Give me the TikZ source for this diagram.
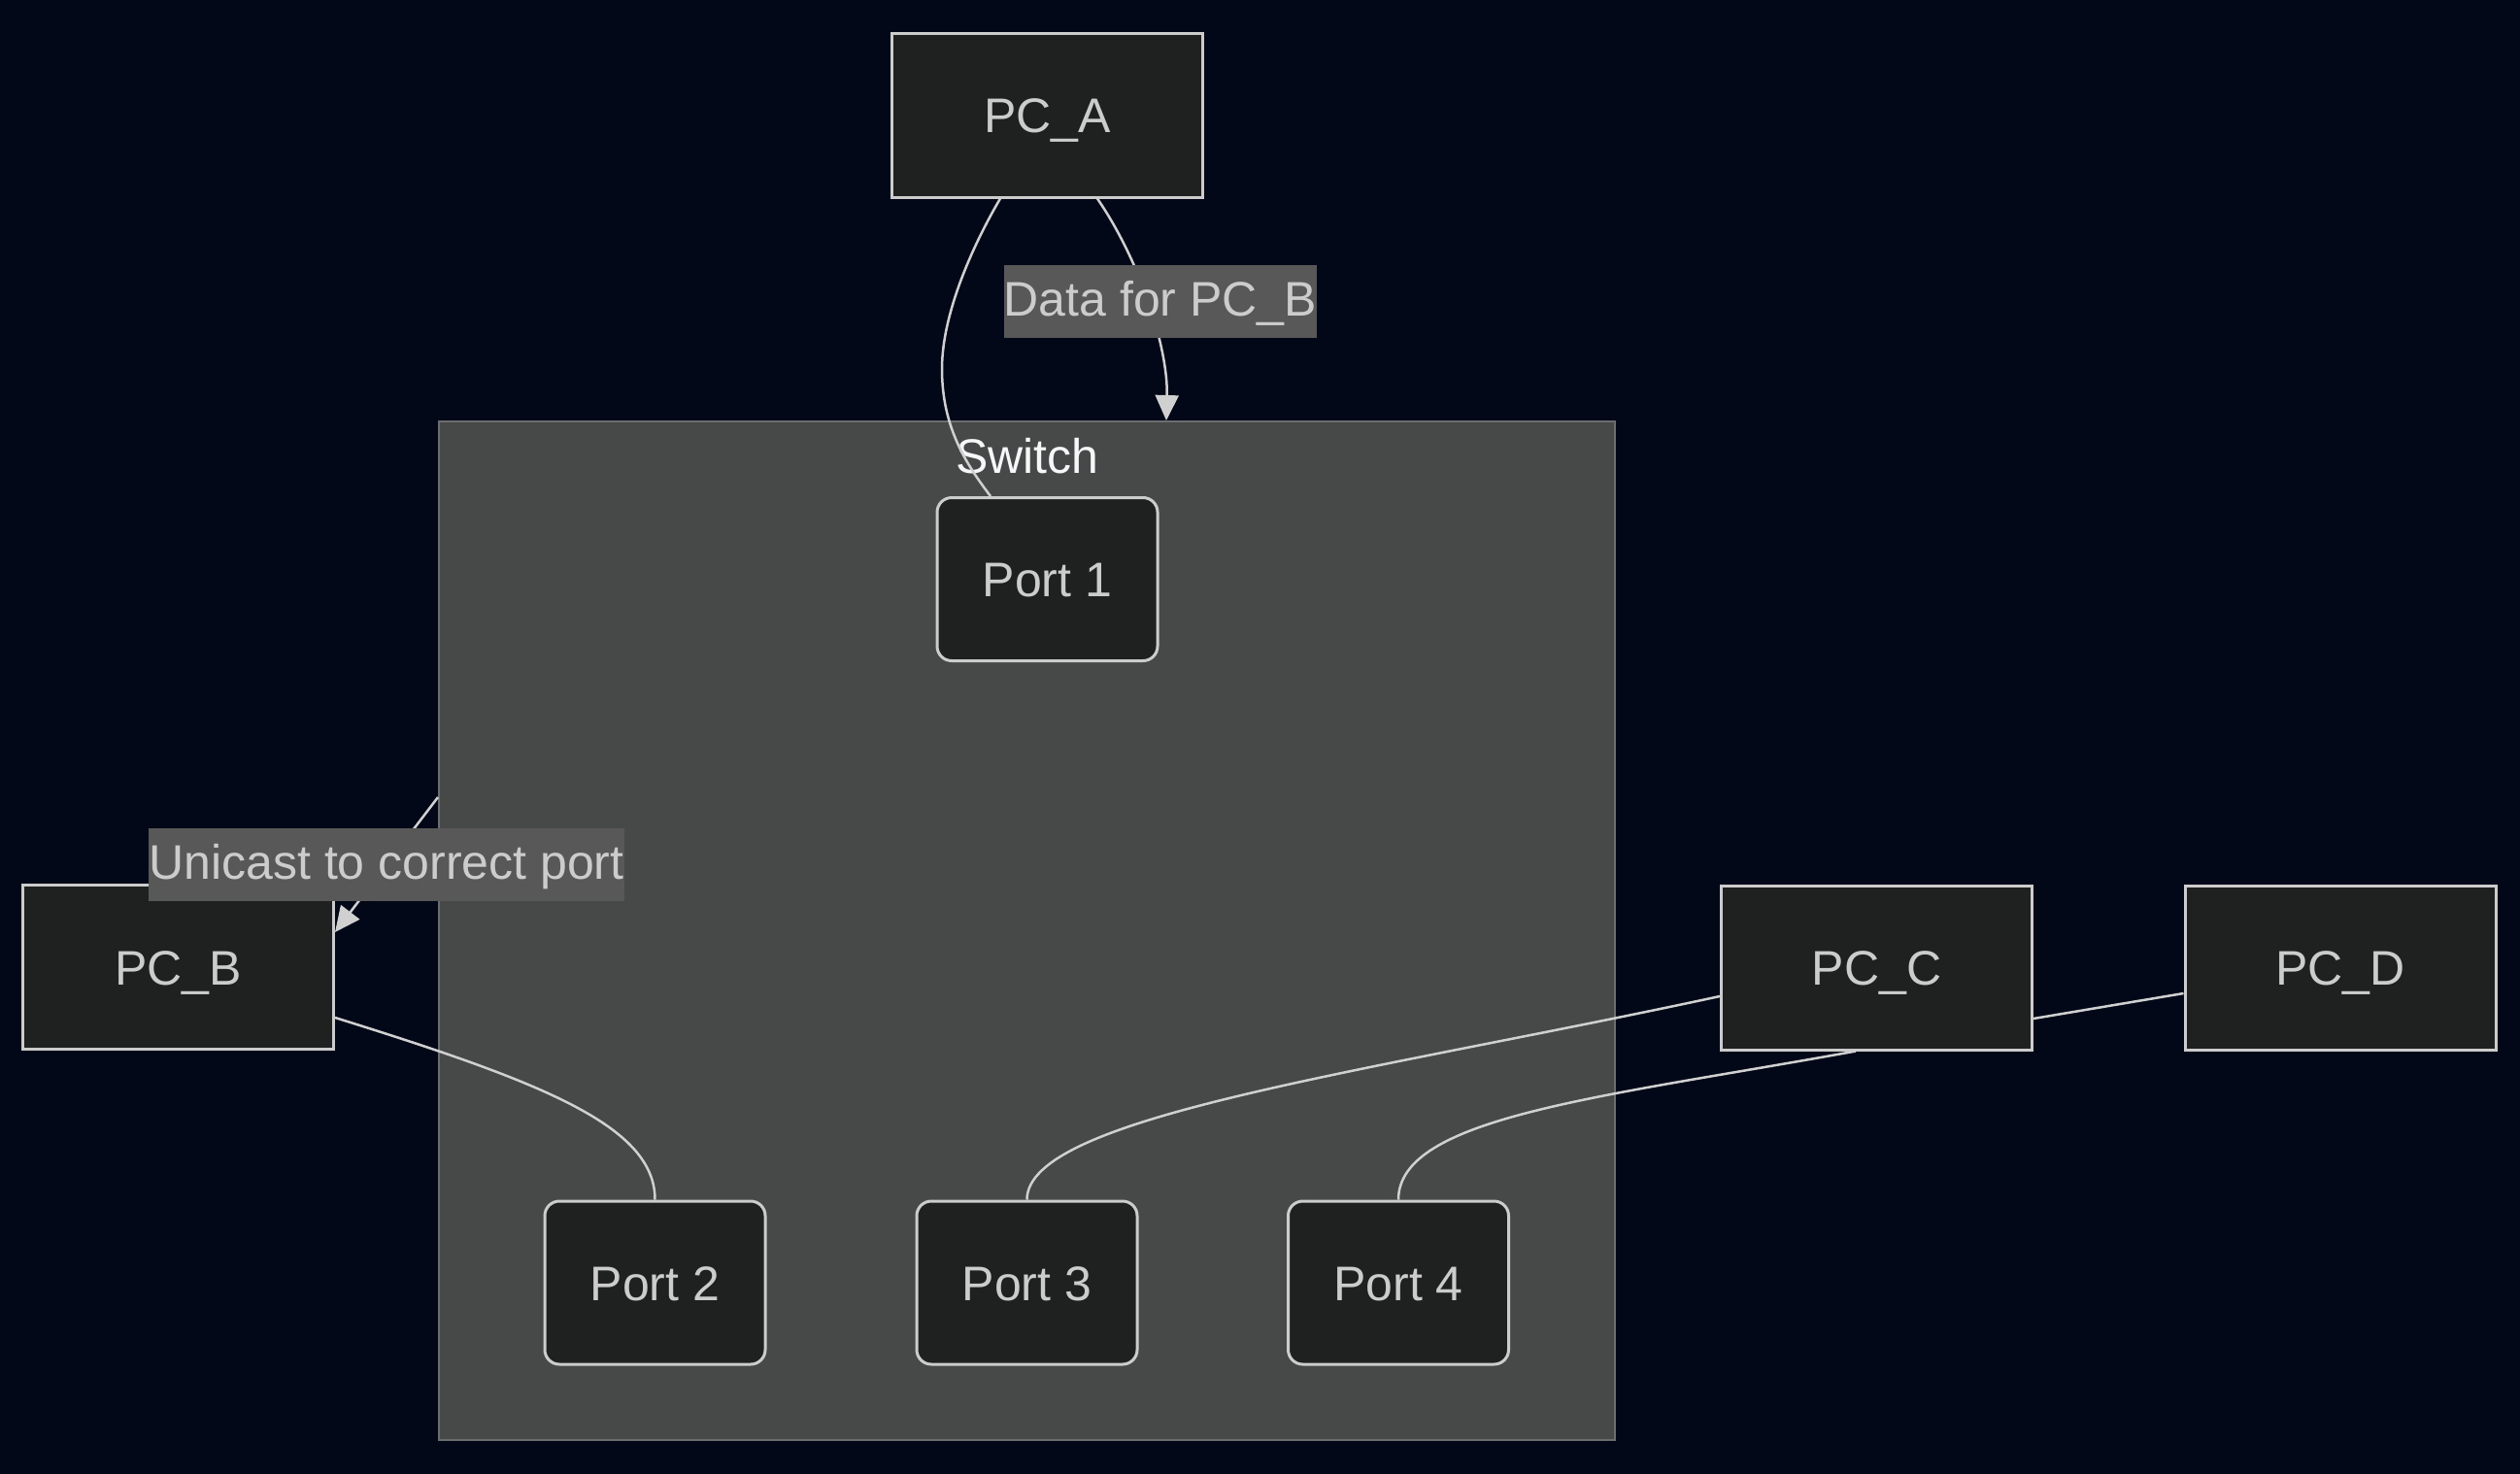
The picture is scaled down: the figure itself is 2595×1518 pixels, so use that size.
\documentclass[tikz,border=0pt]{standalone}
\usepackage{fontspec}
\setmainfont{Liberation Sans}
\usetikzlibrary{arrows.meta}
\definecolor{bg}{HTML}{020817}
\definecolor{nodefill}{HTML}{1F2020}
\definecolor{nodeline}{HTML}{CCCCCC}
\definecolor{clusterfill}{HTML}{474949}
\definecolor{clusterline}{HTML}{6B6D6E}
\definecolor{labelbg}{HTML}{585858}
\definecolor{edgecol}{HTML}{D0D0D0}
\definecolor{txt}{HTML}{CCCCCC}
\definecolor{titletxt}{HTML}{F4F8F8}
\begin{document}
\begin{tikzpicture}[x=1pt,y=-1pt,
  bigfont/.style={font=\fontsize{50}{60}\selectfont},
  pcbox/.style={draw=nodeline, fill=nodefill, line width=3pt, minimum width=320pt, minimum height=169pt, inner sep=0pt, text=txt, bigfont, text height=36pt, text depth=0pt},
  portbox/.style={pcbox, rounded corners=15pt, minimum width=227pt, minimum height=168pt},
  cluster/.style={draw=clusterline, fill=clusterfill, line width=2pt, minimum width=1211pt, minimum height=1049pt, inner sep=0pt},
  wire/.style={draw=edgecol, line width=2.5pt},
  arrowwire/.style={wire, -{Triangle[length=26pt,width=24pt]}},
  elabel/.style={fill=labelbg, text=txt, bigfont, inner sep=0pt, minimum height=75pt, text height=36pt, text depth=6pt},
]
\fill[bg] (0,0) rectangle (2595,1518);
\useasboundingbox (0,0) rectangle (2595,1518);

\node[cluster] (sw) at (1057.5,958.5) {};
\node[anchor=base, text=titletxt, bigfont, inner sep=0pt] (swtitle) at (1058,487) {Switch};

\node[pcbox] (pca) at (1078.5,118.5) {PC\_A};
\node[pcbox] (pcb) at (183.5,996) {PC\_B};
\node[pcbox] (pcc) at (1932.5,996.5) {PC\_C};
\node[pcbox] (pcd) at (2410,996.5) {PC\_D};

\node[portbox] (p1) at (1078.5,596.5) {Port 1};
\node[portbox] (p2) at (674.5,1321) {Port 2};
\node[portbox] (p3) at (1057.5,1321) {Port 3};
\node[portbox] (p4) at (1440,1321) {Port 4};

\coordinate (bend1) at (970,380);
\draw[wire] ([xshift=-48.5pt]pca.south) .. controls (1005,247) and (970,320) .. (bend1)
  .. controls (970,440) and (995,478) .. ([xshift=-58.5pt]p1.north);
\draw[arrowwire] ([xshift=51.5pt]pca.south) .. controls (1175,270) and (1203,360) .. ([xshift=143.5pt]sw.north);
\draw[arrowwire] ([yshift=137.5pt]sw.west) -- ([yshift=36pt]pcb.east);
\draw[wire] ([yshift=-52pt]pcb.east) .. controls (560,1115) and (674.5,1160) .. (p2.north);
\draw[wire] ([yshift=-29.5pt]pcc.west) .. controls (1400,1106) and (1057.5,1150) .. (p3.north);
\draw[wire] ([xshift=-21.5pt]pcc.south) .. controls (1650,1130) and (1440,1150) .. (p4.north);
\draw[wire] ([yshift=-52.5pt]pcc.east) -- ([yshift=-26.5pt]pcd.west);

\node[elabel] (la) at (1195,310.5) {Data for PC\_B};
\node[elabel] (lb) at (398,890.5) {Unicast to correct port};
\end{tikzpicture}
\end{document}
